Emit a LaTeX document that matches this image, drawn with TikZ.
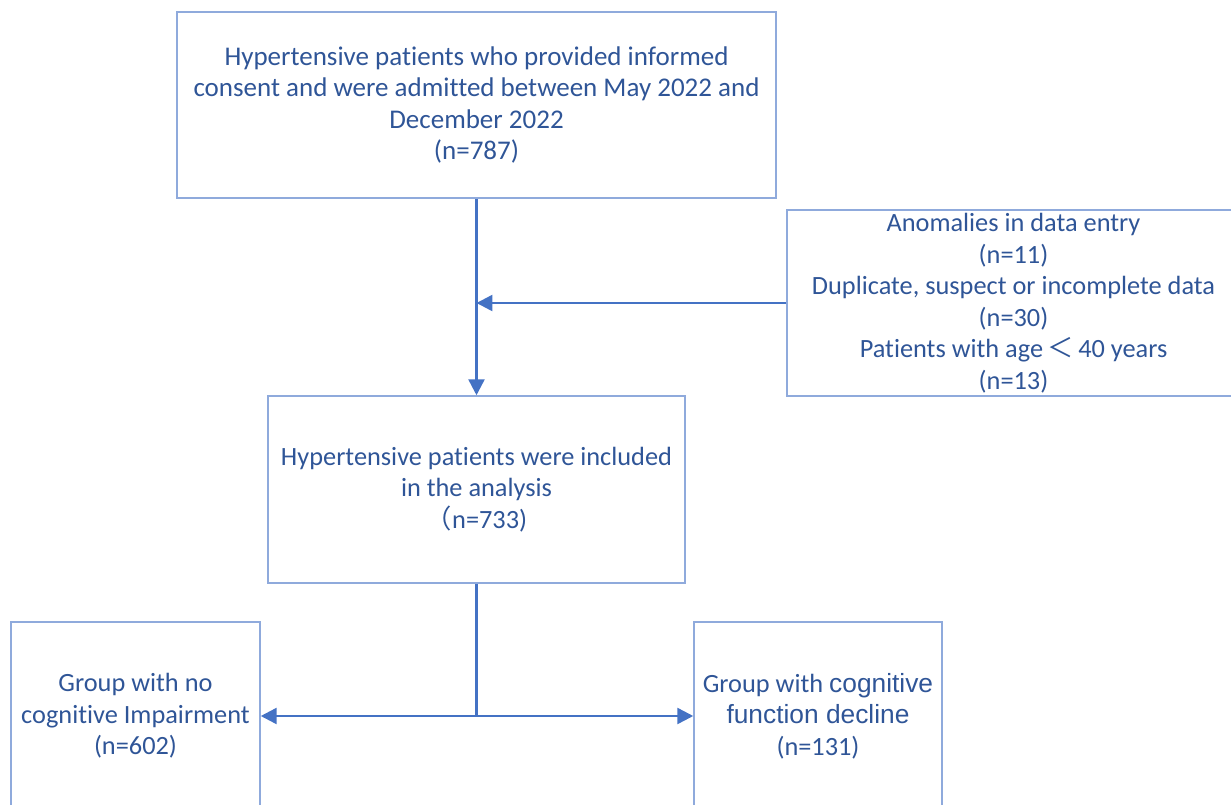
\documentclass[tikz,border=0pt]{standalone}
\usepackage{fontspec}
\setmainfont{Carlito}[Ligatures=NoCommon]
\newfontfamily\cjkfont{Noto Sans CJK SC}
\newfontfamily\sansfont{Liberation Sans}
\usepackage{xcolor}
\usetikzlibrary{arrows.meta}
\usetikzlibrary{positioning}
\definecolor{boxblue}{RGB}{143,170,220}
\definecolor{lineblue}{RGB}{68,114,196}
\definecolor{textblue}{RGB}{47,85,151}

\begin{document}
\begin{tikzpicture}[x=0.6pt, y=-0.6pt,
		box/.style={draw=boxblue, line width=0.9pt, inner sep=0pt, align=center,
			text=textblue, font=\fontsize{15.8}{18.9}\selectfont},
		arr/.style={lineblue, line width=1.5pt, -{Triangle[length=9.5pt,width=9.5pt]}},
		link/.style={lineblue, line width=1.5pt}]
		\useasboundingbox (0,0) rectangle (1231,805);
		% boxes
		\node[box, minimum width=359.4pt, minimum height=111.6pt, font=\fontsize{16.2}{18.9}\selectfont] (admitted) at (476.5,105)
			{Hypertensive patients who provided informed\\consent and were admitted between May 2022 and\\December 2022\\(n=787)};
		\node[box, minimum width=271.8pt, minimum height=111.6pt] (excluded) at (1013.5,303)
			{Anomalies in data entry\\(n=11)\\Duplicate, suspect or incomplete data\\(n=30)\\Patients with age\,{\cjkfont ＜}\,40 years\\(n=13)};
		\node[box, minimum width=250.2pt, minimum height=112.2pt] (included) at (476.5,489.5)
			{Hypertensive patients were included\\in the analysis\\{\cjkfont （}n=733)};
		\node[box, minimum width=149.4pt, minimum height=112.8pt] (normal) at (135.5,716)
			{Group with no\\cognitive Impairment\\(n=602)};
		\node[box, minimum width=148.8pt, minimum height=112.8pt] (decline) at (818,716)
			{Group with {\sansfont cognitive}\\{\sansfont function decline}\\(n=131)};
		% connectors
		\draw[arr] (admitted) -- (included);
		\draw[arr] (excluded.west) -- (excluded.west -| admitted.south);
		\coordinate (split) at (included.south |- normal.east);
		\draw[link] (included) -- (split);
		\draw[arr] (split) -- (normal);
		\draw[arr] (split) -- (decline);
	\end{tikzpicture}
\end{document}
